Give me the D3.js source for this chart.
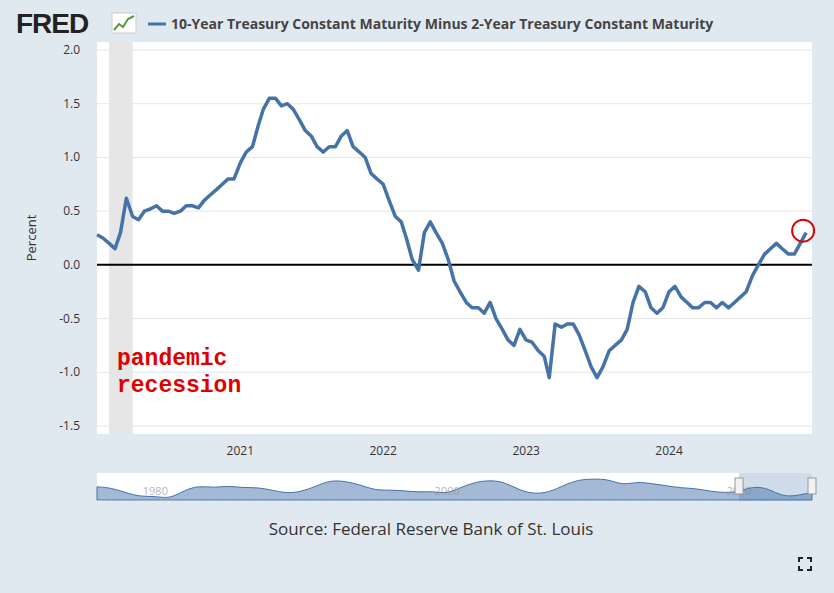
<!DOCTYPE html>
<html><head><meta charset="utf-8">
<script src="https://cdn.jsdelivr.net/npm/d3@7"></script>
<style>body{margin:0;background:#e1e9f0;}svg{display:block;font-family:"Open Sans",Arial,sans-serif;}</style>
</head><body>
<svg id="c" width="834" height="593"></svg>
<script>
// semi-monthly spread values, Jan 2020 .. Dec 2024
var spread2020 = [0.28,0.25,0.2,0.15,0.3,0.62,0.45,0.42,0.5,0.52,0.55,0.5,0.5,0.48,0.5,0.55,0.55,0.53,0.6,0.65,0.7,0.75,0.8,0.8];
var spread2021 = [0.95,1.05,1.1,1.3,1.45,1.55,1.55,1.48,1.5,1.45,1.35,1.25,1.2,1.1,1.05,1.1,1.1,1.2,1.25,1.1,1.05,1.0,0.85,0.8];
var spread2022 = [0.75,0.6,0.45,0.4,0.25,0.05,-0.05,0.3,0.4,0.3,0.2,0.05,-0.15,-0.25,-0.35,-0.4,-0.4,-0.45,-0.35,-0.5,-0.6,-0.7,-0.75,-0.6];
var spread2023 = [-0.7,-0.72,-0.8,-0.85,-1.05,-0.55,-0.58,-0.55,-0.55,-0.65,-0.8,-0.95,-1.05,-0.95,-0.8,-0.75,-0.7,-0.6,-0.35,-0.2,-0.25,-0.4,-0.45,-0.4];
var spread2024 = [-0.25,-0.2,-0.3,-0.35,-0.4,-0.4,-0.35,-0.35,-0.4,-0.35,-0.4,-0.35,-0.3,-0.25,-0.1,0.0,0.1,0.15,0.2,0.15,0.1,0.1,0.2,0.3];
var yTicks = [-1.5,-1.0,-0.5,0.0,0.5,1.0,1.5,2.0];
var xTicks = [2021,2022,2023,2024];
// navigator overview, yearly 1976..2024
var navValues = [1.2,1.0,0.1,-0.6,-0.5,-1.0,0.6,1.4,1.0,1.4,1.0,1.1,0.6,0.0,0.3,1.3,2.4,2.2,1.6,0.6,0.6,0.5,0.2,0.4,-0.1,1.2,2.1,2.4,2.0,0.5,-0.1,0.2,1.5,2.5,2.6,2.6,1.5,2.1,1.8,1.4,1.0,0.9,0.4,0.1,0.3,1.3,0.9,-0.6,-0.4,0.2];
var navStart = 1976;

var all = [].concat(spread2020,spread2021,spread2022,spread2023,spread2024);
var data = all.map(function(v,i){
    return {d:new Date(2020, Math.floor(i/2), i%2 ? 16 : 1), v:v};
});

var svg = d3.select('#c');
var L = 97, R = 812, T = 50, B = 426;
var x = d3.scaleTime().domain([new Date(2020,0,1), new Date(2024,11,31)]).range([L,R]);
var y = d3.scaleLinear().domain([-1.5,2.0]).range([B,T]);

svg.append('rect').attr('x',4).attr('y',4).attr('width',826).attr('height',585).attr('fill','#e1e9f0');
svg.append('rect').attr('x',L).attr('y',T-8).attr('width',R-L).attr('height',B-T+16).attr('fill','#fff');

// recession
svg.append('rect').attr('x',x(new Date(2020,1,1))).attr('y',T-8)
    .attr('width',x(new Date(2020,3,1))-x(new Date(2020,1,1))).attr('height',B-T+16).attr('fill','#e6e6e6');

// grid + y labels
yTicks.forEach(function(t){
    svg.append('line').attr('x1',L).attr('x2',R).attr('y1',y(t)).attr('y2',y(t))
        .attr('stroke','#e6e6e6');
    svg.append('text').attr('x',80).attr('y',y(t)+4).attr('text-anchor','end')
        .attr('font-size',12).attr('fill','#333').text(t.toFixed(1));
});
xTicks.forEach(function(t){
    svg.append('text').attr('x',x(new Date(t,0,1))).attr('y',455).attr('text-anchor','middle')
        .attr('font-size',12).attr('fill','#333').text(t);
});
svg.append('text').attr('transform','translate(36,'+y(0.25)+') rotate(-90)')
    .attr('text-anchor','middle').attr('font-size',13).attr('fill','#333').text('Percent');

svg.append('line').attr('x1',L).attr('x2',R).attr('y1',y(0)).attr('y2',y(0))
    .attr('stroke','#000').attr('stroke-width',2);

svg.append('path').datum(data)
    .attr('d', d3.line().x(function(p){return x(p.d);}).y(function(p){return y(p.v);}))
    .attr('fill','none').attr('stroke','#4572a7').attr('stroke-width',3.5).attr('stroke-linejoin','round');

var last = data[data.length-1];
svg.append('circle').attr('cx',x(last.d)-3).attr('cy',y(last.v)-2).attr('r',11)
    .attr('fill','none').attr('stroke','#e00000').attr('stroke-width',2);

svg.append('text').attr('x',117).attr('y',365).attr('font-family','"Liberation Mono",monospace')
    .attr('font-size',23).attr('font-weight','bold').attr('fill','#e00000').text('pandemic');
svg.append('text').attr('x',117).attr('y',392).attr('font-family','"Liberation Mono",monospace')
    .attr('font-size',23).attr('font-weight','bold').attr('fill','#e00000').text('recession');

// header
svg.append('text').attr('x',16).attr('y',33).attr('font-family','"Liberation Sans",Arial')
    .attr('font-weight','bold').attr('font-size',28).attr('fill','#222').attr('letter-spacing',-1).text('FRED');
svg.append('rect').attr('x',112).attr('y',13).attr('width',24).attr('height',20).attr('fill','#fff').attr('stroke','#ccc');
svg.append('path').attr('d','M114,30 L119,24 L123,27 L128,19 L134,16').attr('fill','none').attr('stroke','#5a9a3a').attr('stroke-width',2);
svg.append('line').attr('x1',148).attr('x2',166).attr('y1',24).attr('y2',24).attr('stroke','#4572a7').attr('stroke-width',3);
svg.append('text').attr('x',171).attr('y',29).attr('font-size',14).attr('font-weight','bold').attr('fill','#444')
    .text('10-Year Treasury Constant Maturity Minus 2-Year Treasury Constant Maturity');

// navigator
var nx = d3.scaleLinear().domain([navStart, navStart+navValues.length-1]).range([L,R]);
var ny = d3.scaleLinear().domain([-1.2,2.8]).range([500,478]);
svg.append('rect').attr('x',L).attr('y',473).attr('width',R-L).attr('height',28).attr('fill','#fff');
svg.append('path').datum(navValues)
    .attr('d', d3.area().curve(d3.curveBasis).x(function(v,i){return nx(navStart+i);}).y0(500).y1(function(v){return ny(v);}))
    .attr('fill','#a3b9d6').attr('stroke','#4572a7').attr('stroke-width',1);
[1980,2000,2020].forEach(function(t){
    svg.append('text').attr('x',nx(t)).attr('y',495).attr('text-anchor','middle')
        .attr('font-size',11).attr('fill','#999').attr('opacity',0.7).text(t);
});
svg.append('rect').attr('x',nx(2020)).attr('y',473).attr('width',R-nx(2020)).attr('height',28)
    .attr('fill','#4572a7').attr('opacity',0.25);
[nx(2020), R].forEach(function(hx){
    svg.append('rect').attr('x',hx-4).attr('y',478).attr('width',8).attr('height',16)
        .attr('fill','#f2f2f2').attr('stroke','#999');
});

svg.append('text').attr('x',431).attr('y',535).attr('text-anchor','middle').attr('font-size',17)
    .attr('fill','#333').text('Source: Federal Reserve Bank of St. Louis');

// fullscreen icon
svg.append('path').attr('d','M799,562 v-4 h4 M807,558 h4 v4 M811,566 v4 h-4 M803,570 h-4 v-4')
    .attr('fill','none').attr('stroke','#222').attr('stroke-width',2);
</script>
</body></html>
